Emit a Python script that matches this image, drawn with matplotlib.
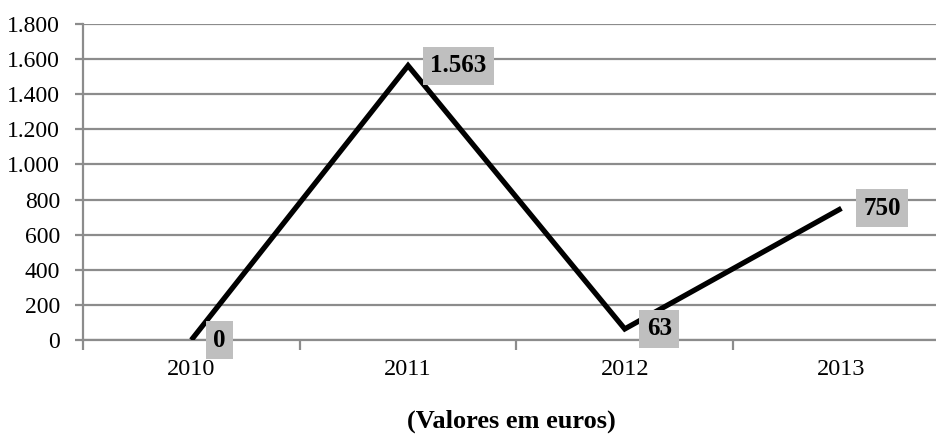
import matplotlib
matplotlib.use("Agg")
import matplotlib.pyplot as plt
from matplotlib.ticker import FuncFormatter, FixedLocator

years = ["2010", "2011", "2012", "2013"]
values = [0, 1563, 63, 750]
value_labels = ["0", "1.563", "63", "750"]
y_ticks = [0, 200, 400, 600, 800, 1000, 1200, 1400, 1600, 1800]
x_title = "(Valores em euros)"

plt.rcParams["font.family"] = ["Liberation Serif", "DejaVu Serif"]

W, H = 937, 436
fig = plt.figure(figsize=(W / 100, H / 100), dpi=100)
left_px, right_px, top_px, bottom_px = 83, 83 + 4 * 216.7, 24, 340
ax = fig.add_axes([left_px / W, (H - bottom_px) / H,
                   (right_px - left_px) / W, (bottom_px - top_px) / H])

grid_col = "#8c8c8c"
x = list(range(len(years)))
ax.plot(x, values, color="black", lw=3.8, solid_joinstyle="miter",
        solid_capstyle="butt", zorder=3)

for xi, v, lab in zip(x, values, value_labels):
    ax.annotate(lab, (xi, v), xytext=(22, 0), textcoords="offset pixels",
                ha="left", va="center", fontsize=18, fontweight="bold",
                bbox=dict(boxstyle="square,pad=0.3", fc="#bfbfbf", ec="none"),
                zorder=4)

ax.set_xlim(-0.5, len(years) - 0.5)
ax.set_ylim(0, 1800)
ax.set_yticks(y_ticks)
ax.yaxis.set_major_formatter(FuncFormatter(lambda v, p: f"{int(v):,}".replace(",", ".")))
ax.yaxis.grid(True, color=grid_col, lw=1.6)
ax.set_axisbelow(True)

ax.xaxis.set_major_locator(FixedLocator([i - 0.5 for i in range(len(years) + 1)]))
ax.xaxis.set_minor_locator(FixedLocator(x))
ax.set_xticklabels([], minor=False)
ax.set_xticklabels(years, minor=True)
ax.tick_params(axis="x", which="major", length=7, width=1.6, color=grid_col, direction="out")
ax.tick_params(axis="x", which="minor", length=0, pad=14, labelsize=17.5)
ax.tick_params(axis="y", length=6, width=1.6, color=grid_col, pad=10.5, labelsize=17)

for s in ["top", "right"]:
    ax.spines[s].set_visible(False)
for s in ["left", "bottom"]:
    ax.spines[s].set_color(grid_col)
    ax.spines[s].set_linewidth(1.6)

fig.text(511 / W, 1 - 421 / H, x_title, ha="center", va="center",
         fontsize=19, fontweight="bold")

fig.savefig("out.png", dpi=100)
